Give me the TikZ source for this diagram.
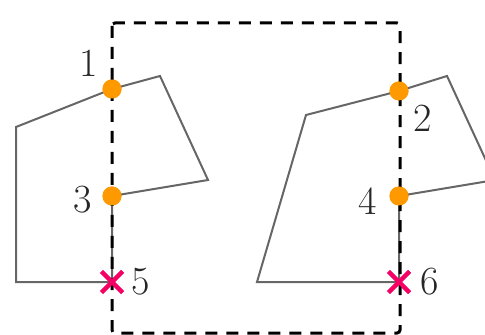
\documentclass[tikz,border=0pt]{standalone}
\usepackage{tikz}
\usetikzlibrary{shapes.misc}

\definecolor{hitorange}{RGB}{255,153,0}
\definecolor{misspink}{RGB}{245,0,100}

\begin{document}
\begin{tikzpicture}[
        x=0.5pt, y=-0.5pt,
        edge/.style={draw=black!60, line width=1pt, line join=miter},
        frame/.style={draw=black, line width=1.5pt,
                      dash pattern=on 6pt off 4.5pt, rounded corners=1.5pt},
        hit/.style={circle, fill=hitorange, inner sep=0pt, minimum size=9.5pt},
        miss/.style={cross out, draw=misspink, line width=2pt,
                     inner sep=0pt, minimum size=8.5pt},
        num/.style={font=\fontsize{20}{24}\selectfont, text=black!85,
                    inner sep=0pt}
    ]
    \path[use as bounding box, clip] (0,0) rectangle (485,335);

    % ------- crossing points -------
    \node[hit] (p1) at (112,89) {};
    \node[hit] (p2) at (399,91) {};
    \node[hit] (p3) at (112,196) {};
    \node[hit] (p4) at (399,196) {};
    \node[miss] (p5) at (112,282) {};
    \node[miss] (p6) at (399,282) {};

    % ------- left polygon -------
    \coordinate (a1) at (16,127);
    \coordinate (a2) at (160,76);
    \coordinate (a3) at (208,180);
    \coordinate (a4) at (16,282);
    \draw[edge] (a1) -- (p1.center) -- (a2) -- (a3) -- (p3.center)
        -- (p5.center) -- (a4) -- cycle;

    % ------- right polygon -------
    \coordinate (b1) at (257,282);
    \coordinate (b2) at (306,115);
    \coordinate (b3) at (447,76);
    \coordinate (b4) at (495,180);
    \draw[edge] (b1) -- (b2) -- (p2.center) -- (b3) -- (b4) -- (p4.center)
        -- (p6.center) -- cycle;

    % dashed window
    \draw[frame] (112,23) rectangle (400,333);

    % points on top
    \foreach \p in {p1,p2,p3,p4} {
        \node[hit] at (\p) {};
    }
    \node[miss] at (p5) {};
    \node[miss] at (p6) {};

    % ------- numbers -------
    \node[num] (n1) at (89,63) {1};
    \node[num] (n2) at (423,118) {2};
    \node[num] (n3) at (83,200) {3};
    \node[num] (n4) at (368,201) {4};
    \node[num] (n5) at (141,282) {5};
    \node[num] (n6) at (430,282) {6};

\end{tikzpicture}
\end{document}
